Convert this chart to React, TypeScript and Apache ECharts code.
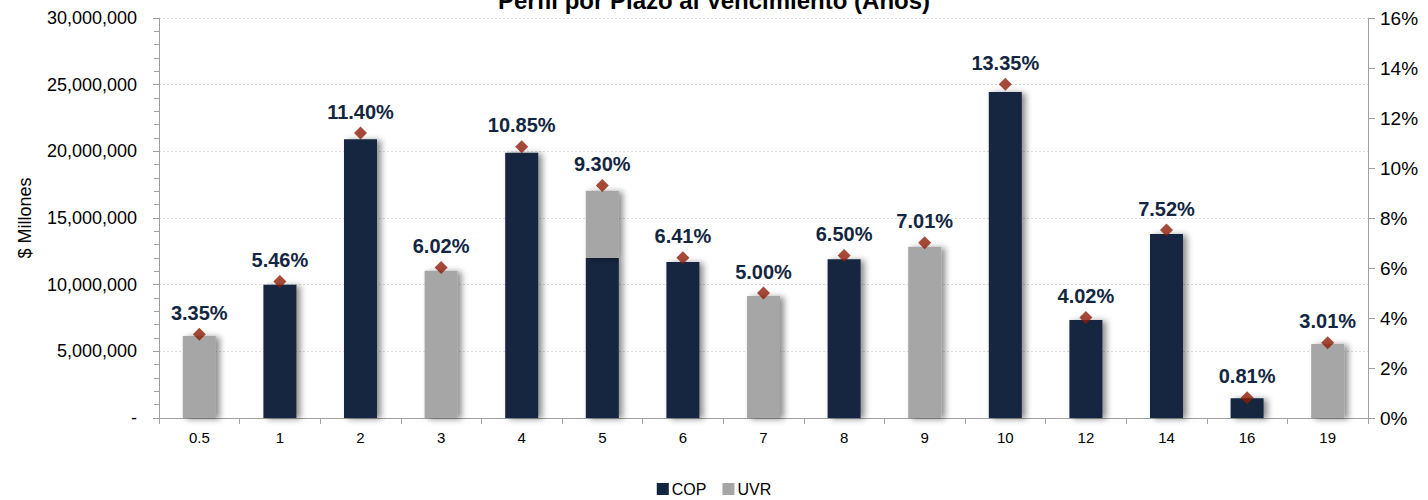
import React, { useEffect, useRef } from "react";
import * as echarts from "echarts";

const categories = ["0.5", "1", "2", "3", "4", "5", "6", "7", "8", "9", "10", "12", "14", "16", "19"];
const copValues = [null, 10.0, 20.9, null, 19.9, 12.0, 11.7, null, 11.9, null, 24.45, 7.35, 13.8, 1.48, null].map((v) => (v === null ? null : v * 1e6));
const uvrValues = [6.15, null, null, 11.05, null, 5.05, null, 9.15, null, 12.85, null, null, null, null, 5.55].map((v) => (v === null ? null : v * 1e6));
const rates = [3.35, 5.46, 11.4, 6.02, 10.85, 9.3, 6.41, 5.0, 6.5, 7.01, 13.35, 4.02, 7.52, 0.81, 3.01];
const titleText = "Perfil por Plazo al Vencimiento (Años)";

const NAVY = "#12263F";
const GRAY = "#A6A6A6";
const RED = "#8E1B06";
const FONT = "'Liberation Sans', Arial, sans-serif";

function fmtMillions(v: number) {
  if (v === 0) return "-";
  return v.toLocaleString("en-US");
}

export default function App() {
  const ref = useRef<HTMLDivElement>(null);
  useEffect(() => {
    if (!ref.current) return;
    const chart = echarts.init(ref.current, undefined, { renderer: "svg" });
    const barShadow = {
      shadowColor: "rgba(0,0,0,0.45)",
      shadowBlur: 6,
      shadowOffsetX: 4,
      shadowOffsetY: 1,
    };
    chart.setOption({
      animation: false,
      backgroundColor: "#ffffff",
      textStyle: { fontFamily: FONT },
      title: {
        text: titleText,
        left: "center",
        top: -17,
        textStyle: { fontFamily: FONT, fontSize: 24, fontWeight: "bold", color: "#000000" },
      },
      legend: {
        data: ["COP", "UVR"],
        left: "center",
        top: 476,
        icon: "rect",
        itemWidth: 12,
        itemHeight: 12,
        itemGap: 16,
        textStyle: { fontFamily: FONT, fontSize: 16, color: "#000000", padding: [0, 0, 0, -2] },
      },
      grid: { left: 159, right: 60, top: 18, bottom: 82, containLabel: false },
      xAxis: {
        type: "category",
        data: categories,
        boundaryGap: true,
        axisLine: { lineStyle: { color: "#A0A0A0", width: 1 } },
        axisTick: { show: true, alignWithLabel: false, length: 6, lineStyle: { color: "#A0A0A0" } },
        axisLabel: { fontFamily: FONT, fontSize: 15, color: "#000000", margin: 12 },
      },
      yAxis: [
        {
          type: "value",
          min: 0,
          max: 30000000,
          interval: 5000000,
          name: "$ Millones",
          nameLocation: "middle",
          nameRotate: 90,
          nameGap: 125,
          nameTextStyle: { fontFamily: FONT, fontSize: 18, color: "#000000" },
          axisLine: { show: true, lineStyle: { color: "#A0A0A0" } },
          axisTick: { show: true, inside: false, length: 6, lineStyle: { color: "#A0A0A0" } },
          minorTick: { show: true, splitNumber: 5, length: 5, lineStyle: { color: "#A0A0A0" } },
          axisLabel: { fontFamily: FONT, fontSize: 18, color: "#000000", margin: 22, formatter: fmtMillions },
          splitLine: { show: true, lineStyle: { color: "#D9D9D9", type: [2, 2], width: 1 } },
        },
        {
          type: "value",
          min: 0,
          max: 16,
          interval: 2,
          position: "right",
          axisLine: { show: true, lineStyle: { color: "#A0A0A0" } },
          axisTick: { show: true, inside: false, length: 7, lineStyle: { color: "#A0A0A0" } },
          axisLabel: { fontFamily: FONT, fontSize: 19, color: "#000000", margin: 12, formatter: (v: number) => v + "%" },
          splitLine: { show: false },
        },
      ],
      series: [
        {
          name: "COP",
          type: "bar",
          stack: "total",
          barWidth: 33,
          data: copValues,
          itemStyle: { color: NAVY, ...barShadow },
        },
        {
          name: "UVR",
          type: "bar",
          stack: "total",
          barWidth: 33,
          data: uvrValues,
          itemStyle: { color: GRAY, ...barShadow },
        },
        {
          name: "Tasa",
          type: "scatter",
          yAxisIndex: 1,
          data: rates,
          symbol: "diamond",
          symbolSize: 13,
          itemStyle: { color: RED },
          z: 5,
          label: {
            show: true,
            position: "top",
            distance: 5,
            formatter: (p: any) => Number(p.value).toFixed(2) + "%",
            fontFamily: FONT,
            fontSize: 20,
            fontWeight: "bold",
            color: "#12263F",
            textBorderWidth: 0,
            opacity: 1,
          },
        },
      ],
    });
    return () => chart.dispose();
  }, []);
  return (
    <div
      ref={ref}
      style={{ position: "fixed", left: 0, top: 0, width: 1428, height: 500 }}
    />
  );
}
